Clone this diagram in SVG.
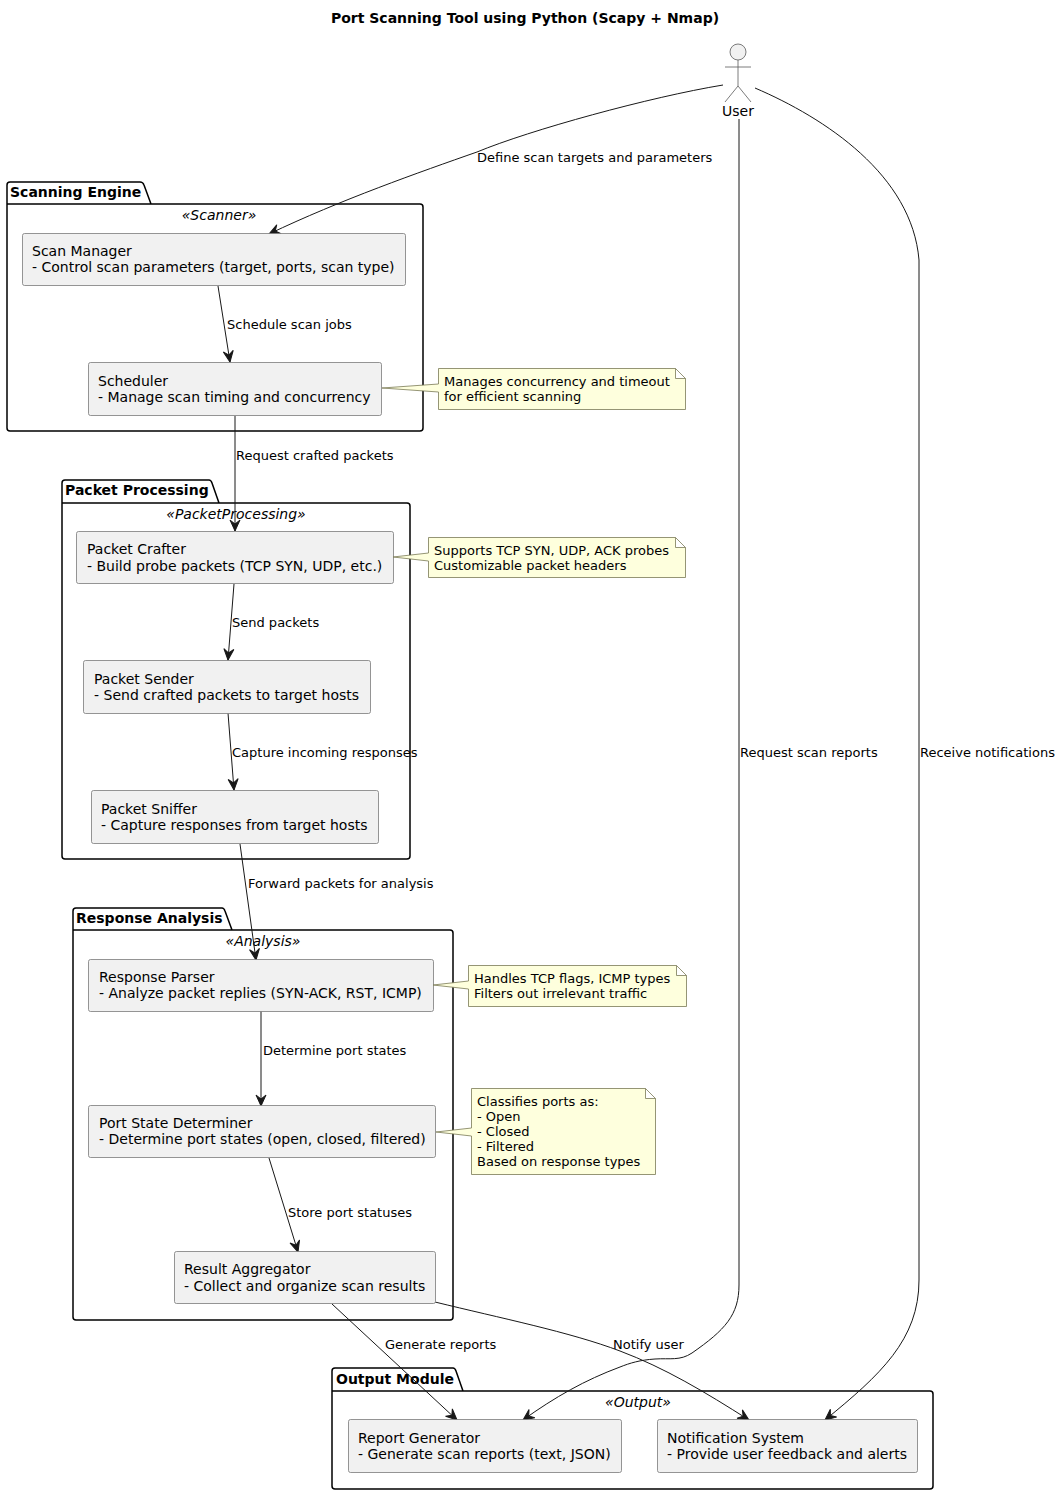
<svg xmlns="http://www.w3.org/2000/svg" width="1062" height="1494" viewBox="0 0 1062 1494">
<style>
text{font-family:"DejaVu Sans",sans-serif;fill:#000}
.t{font-size:14px}.l{font-size:13px}.n{font-size:13px}
.pk{font-size:14px;font-weight:bold}.st{font-size:14px;font-style:italic}
.title{font-size:14px;font-weight:bold}
.box{fill:#F1F1F1;stroke:#7a7a7a;stroke-width:.8}
.note{fill:#FEFFDD;stroke:#7a7a55;stroke-width:.8}
.pkg{fill:#fff;stroke:#000;stroke-width:1.5}
.c{fill:none;stroke:#181818;stroke-width:1;marker-end:url(#a)}
.act{fill:none;stroke:#5a5a5a;stroke-width:.8}
</style>
<defs><marker id="a" markerUnits="userSpaceOnUse" markerWidth="14" markerHeight="12" refX="11" refY="5" orient="auto" overflow="visible"><path d="M0 0L11 5L0 10L4 5Z" fill="#181818" stroke="#181818" stroke-width="1"/></marker></defs>
<rect width="1062" height="1494" fill="#fff"/>
<text class="title" x="525" y="23" text-anchor="middle">Port Scanning Tool using Python (Scapy + Nmap)</text>

<g id="pkg-scanning">
<path class="pkg" d="M7 204V185Q7 182 10 182H140Q143 182 144 185L151 204M7 204H420Q423 204 423 207V428Q423 431 420 431H10Q7 431 7 428Z"/>
<text class="pk" x="10" y="197">Scanning Engine</text><text class="st" x="219" y="220" text-anchor="middle">«Scanner»</text></g>
<g id="pkg-packet">
<path class="pkg" d="M62 503V483Q62 480 65 480H209Q211 480 212 483L219 503M62 503H407Q410 503 410 506V856Q410 859 407 859H65Q62 859 62 856Z"/>
<text class="pk" x="65" y="495">Packet Processing</text><text class="st" x="236" y="519" text-anchor="middle">«PacketProcessing»</text></g>
<g id="pkg-response">
<path class="pkg" d="M73 930V911Q73 908 76 908H222Q224 908 225 911L232 930M73 930H450Q453 930 453 933V1317Q453 1320 450 1320H76Q73 1320 73 1317Z"/>
<text class="pk" x="76" y="923">Response Analysis</text><text class="st" x="263" y="946" text-anchor="middle">«Analysis»</text></g>
<g id="pkg-output">
<path class="pkg" d="M332 1391V1371Q332 1368 335 1368H453Q455 1368 456 1371L463 1391M332 1391H930Q933 1391 933 1394V1486Q933 1489 930 1489H335Q332 1489 332 1486Z"/>
<text class="pk" x="336" y="1384">Output Module</text><text class="st" x="638" y="1407" text-anchor="middle">«Output»</text></g>

<g id="connectors">
<path class="c" d="M723 85C650 97 530 130 477 152C420 172 340 200 269 234"/>
<path class="c" d="M218 286L230 362"/>
<path class="c" d="M235 416V531"/>
<path class="c" d="M234 584L228 660"/>
<path class="c" d="M228 713L234 790"/>
<path class="c" d="M240 844L256 960"/>
<path class="c" d="M261 1011V1106"/>
<path class="c" d="M269 1158L298 1252"/>
<path class="c" d="M332 1304L457 1420"/>
<path class="c" d="M435 1302C500 1318 570 1332 620 1351C665 1368 705 1392 749 1420"/>
<path class="c" d="M739 119V1285C739 1315 725 1330 692 1353C680 1361 670 1358 655 1359C640 1360 630 1363 620 1367C585 1380 555 1397 523 1420"/>
<path class="c" d="M755 88C825 118 912 175 919 260V1280C919 1340 880 1375 825 1420"/>
</g>
<g id="connector-labels">
<text class="l" x="477" y="162">Define scan targets and parameters</text>
<text class="l" x="227" y="329">Schedule scan jobs</text>
<text class="l" x="236" y="460">Request crafted packets</text>
<text class="l" x="232" y="627">Send packets</text>
<text class="l" x="232" y="757">Capture incoming responses</text>
<text class="l" x="248" y="888">Forward packets for analysis</text>
<text class="l" x="263" y="1055">Determine port states</text>
<text class="l" x="288" y="1217">Store port statuses</text>
<text class="l" x="385" y="1349">Generate reports</text>
<text class="l" x="613" y="1349">Notify user</text>
<text class="l" x="740" y="757">Request scan reports</text>
<text class="l" x="920" y="757">Receive notifications</text>
</g>

<g id="user"><circle cx="738" cy="52" r="8" fill="#F1F1F1" stroke="#5a5a5a" stroke-width=".8"/><path class="act" d="M738 60V86M725 67H751M738 86L725 102M738 86L751 102"/><text class="t" x="738" y="116" text-anchor="middle">User</text></g>
<g id="scan-manager"><rect class="box" x="22.500" y="233.500" width="383" height="52" rx="2"/><text class="t" x="32" y="256">Scan Manager</text><text class="t" x="32" y="272">- Control scan parameters (target, ports, scan type)</text></g>
<g id="scheduler"><rect class="box" x="88.500" y="362.500" width="293" height="53" rx="2"/><text class="t" x="98" y="386">Scheduler</text><text class="t" x="98" y="402">- Manage scan timing and concurrency</text></g>
<g id="packet-crafter"><rect class="box" x="76.500" y="531.500" width="317" height="52" rx="2"/><text class="t" x="87" y="554">Packet Crafter</text><text class="t" x="87" y="571">- Build probe packets (TCP SYN, UDP, etc.)</text></g>
<g id="packet-sender"><rect class="box" x="83.500" y="660.500" width="287" height="53" rx="2"/><text class="t" x="94" y="684">Packet Sender</text><text class="t" x="94" y="700">- Send crafted packets to target hosts</text></g>
<g id="packet-sniffer"><rect class="box" x="91.500" y="790.500" width="287" height="53" rx="2"/><text class="t" x="101" y="814">Packet Sniffer</text><text class="t" x="101" y="830">- Capture responses from target hosts</text></g>
<g id="response-parser"><rect class="box" x="88.500" y="959.500" width="345" height="52" rx="2"/><text class="t" x="99" y="982">Response Parser</text><text class="t" x="99" y="998">- Analyze packet replies (SYN-ACK, RST, ICMP)</text></g>
<g id="port-state"><rect class="box" x="88.500" y="1105.500" width="347" height="52" rx="2"/><text class="t" x="99" y="1128">Port State Determiner</text><text class="t" x="99" y="1144">- Determine port states (open, closed, filtered)</text></g>
<g id="result-aggregator"><rect class="box" x="174.500" y="1251.500" width="261" height="52" rx="2"/><text class="t" x="184" y="1274">Result Aggregator</text><text class="t" x="184" y="1291">- Collect and organize scan results</text></g>
<g id="report-generator"><rect class="box" x="348.500" y="1419.500" width="273" height="53" rx="2"/><text class="t" x="358" y="1443">Report Generator</text><text class="t" x="358" y="1459">- Generate scan reports (text, JSON)</text></g>
<g id="notification-system"><rect class="box" x="657.500" y="1419.500" width="260" height="53" rx="2"/><text class="t" x="667" y="1443">Notification System</text><text class="t" x="667" y="1459">- Provide user feedback and alerts</text></g>

<g id="note-scheduler"><path class="note" d="M438.500 368.500H675.500L685.500 378.500V409.500H438.500V392L382 388L438.500 384ZM675.500 368.500V378.500H685.500"/><text class="n" x="444" y="386">Manages concurrency and timeout</text><text class="n" x="444" y="401">for efficient scanning</text></g>
<g id="note-crafter"><path class="note" d="M428.500 537.500H675.500L685.500 547.500V577.500H428.500V561L393 557L428.500 553ZM675.500 537.500V547.500H685.500"/><text class="n" x="434" y="555">Supports TCP SYN, UDP, ACK probes</text><text class="n" x="434" y="570">Customizable packet headers</text></g>
<g id="note-parser"><path class="note" d="M468.500 965.500H676.500L686.500 975.500V1006.500H468.500V989L433 985L468.500 981ZM676.500 965.500V975.500H686.500"/><text class="n" x="474" y="983">Handles TCP flags, ICMP types</text><text class="n" x="474" y="998">Filters out irrelevant traffic</text></g>
<g id="note-port-state"><path class="note" d="M471.500 1088.500H645.500L655.500 1098.500V1174.500H471.500V1136L436 1132L471.500 1128ZM645.500 1088.500V1098.500H655.500"/><text class="n" x="477" y="1106">Classifies ports as:</text><text class="n" x="477" y="1121">- Open</text><text class="n" x="477" y="1136">- Closed</text><text class="n" x="477" y="1151">- Filtered</text><text class="n" x="477" y="1166">Based on response types</text></g>
</svg>
